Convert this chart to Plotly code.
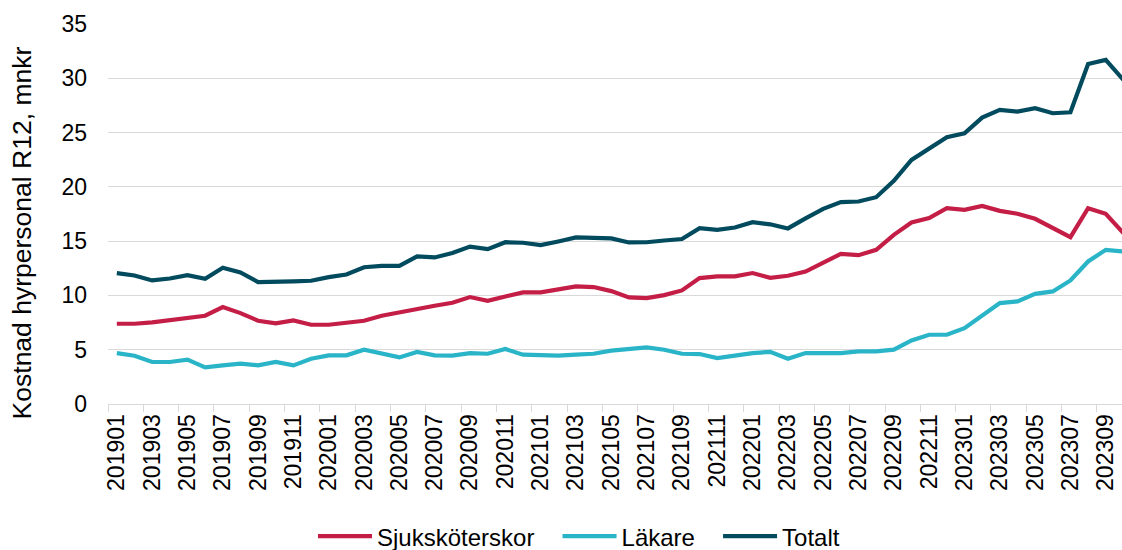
import plotly.graph_objects as go

months = [f"{y}{m:02d}" for y in (2019, 2020, 2021, 2022, 2023) for m in range(1, 13)][:58]

sjukskoterskor = [7.39, 7.39, 7.52, 7.73, 7.88, 8.13, 8.93, 8.37, 7.67, 7.42,
                  7.70, 7.30, 7.30, 7.45, 7.67, 8.13, 8.44, 8.83, 9.05, 9.33,
                  9.85, 9.51, 9.85, 10.28, 10.28, 10.55, 10.83, 10.77, 10.40, 9.82,
                  9.75, 10.03, 10.46, 11.60, 11.75, 11.75, 12.06, 11.62, 11.81, 12.20,
                  13.04, 13.83, 13.71, 14.20, 15.58, 16.72, 17.12, 18.04, 17.88, 18.25,
                  17.79, 17.52, 17.06, 16.26, 15.37, 18.04, 17.52, 15.74]

lakare = [4.69, 4.45, 3.87, 3.87, 4.08, 3.37, 3.56, 3.71, 3.56, 3.87,
          3.56, 4.17, 4.48, 4.48, 5.00, 4.63, 4.29, 4.79, 4.48, 4.45,
          4.69, 4.63, 5.06, 4.54, 4.45, 4.45, 4.54, 4.63, 4.91, 5.09,
          5.21, 5.00, 4.63, 4.60, 4.23, 4.45, 4.69, 4.80, 4.17, 4.69,
          4.69, 4.69, 4.85, 4.85, 5.00, 5.86, 6.38, 6.38, 6.99, 8.13,
          9.29, 9.45, 10.15, 10.37, 11.38, 13.13, 14.20, 14.05]

totalt = [12.06, 11.84, 11.38, 11.56, 11.87, 11.53, 12.55, 12.12, 11.23, 11.23,
          11.29, 11.35, 11.69, 11.93, 12.60, 12.73, 12.73, 13.59, 13.50, 13.90,
          14.50, 14.26, 14.90, 14.85, 14.63, 14.97, 15.34, 15.30, 15.25, 14.88,
          14.90, 15.06, 15.20, 16.20, 16.04, 16.26, 16.75, 16.55, 16.17, 17.10,
          17.98, 18.60, 18.65, 19.05, 20.55, 22.48, 23.56, 24.57, 24.94, 26.38,
          27.09, 26.93, 27.24, 26.78, 26.87, 31.32, 31.69, 29.85]

PAD = "\u00a0\u00a0\u2009"
series = [
    ("Sjuksköterskor" + PAD, sjukskoterskor, "#C41E47"),
    ("Läkare" + PAD, lakare, "#2AB4C7"),
    ("Totalt", totalt, "#024B5E"),
]

y_title = "Kostnad hyrpersonal R12, mnkr"

FONT = "Liberation Sans, Arial, sans-serif"

fig = go.Figure()
for name, vals, color in series:
    fig.add_trace(go.Scatter(
        x=months, y=vals, name=name, mode="lines",
        line=dict(color=color, width=4.2),
    ))

fig.update_layout(
    width=1122, height=550,
    margin=dict(l=108, r=0, t=24, b=146, autoexpand=False),
    paper_bgcolor="white", plot_bgcolor="white",
    font=dict(family=FONT, size=23, color="#000000"),
    showlegend=True,
    legend=dict(orientation="h", xanchor="center", x=0.4645,
                yanchor="middle", y=-0.349, font=dict(size=24),
                itemwidth=54, tracegroupgap=0),
    annotations=[dict(
        text=y_title, textangle=-90, xref="paper", yref="paper",
        x=-0.0848, y=0.449, xanchor="center", yanchor="middle",
        showarrow=False, font=dict(size=26.5, family=FONT, color="#000000"),
    )],
)

fig.update_xaxes(
    type="category", range=[-0.5, 56.92], automargin=False,
    tickmode="linear", tick0=0, dtick=2, tickson="boundaries",
    tickangle=-90, ticks="outside", ticklen=7, tickcolor="#D9D9D9", tickwidth=1,
    showline=True, linecolor="#D9D9D9", linewidth=1,
    showgrid=False, zeroline=False,
    tickfont=dict(size=23),
)

fig.update_yaxes(
    range=[0, 35], dtick=5, tick0=0, automargin=False,
    showgrid=True, gridcolor="#D9D9D9", gridwidth=1,
    zeroline=False, showline=False,
    ticks="", ticklabelstandoff=20,
    tickfont=dict(size=23),
)

fig.write_html("out.html", config={"displayModeBar": False},
               post_script="document.body.style.margin='0';")
